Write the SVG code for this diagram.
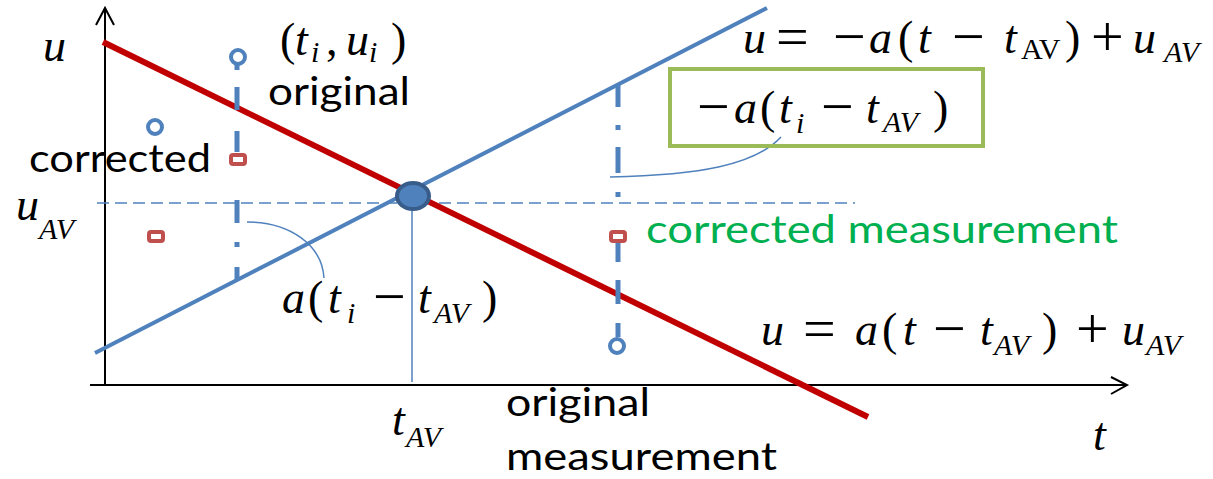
<svg xmlns="http://www.w3.org/2000/svg" width="1213" height="479" viewBox="0 0 1213 479">
<style>
.m{font-family:"Liberation Serif","DejaVu Serif",serif;font-style:italic;font-size:46px;fill:#000}
.p{font-style:normal}
.op{font-style:normal;font-size:58px}
.s{font-size:30px}
.r{font-style:normal}
.lbl{font-family:Lato,"Liberation Sans",sans-serif;font-size:38px;fill:#000}
.axis{stroke:#000;stroke-width:2;fill:none}
.dd{stroke:#4F81BD;stroke-width:5;fill:none}
.thin{stroke:#4F81BD;stroke-width:1.5;fill:none}
.sq{fill:#fff;stroke:#C0504D;stroke-width:4}
.ci{fill:#fff;stroke:#4F81BD;stroke-width:4}
</style>
<rect width="1213" height="479" fill="#fff"/>
<g id="connectors">
  <path class="axis" d="M105,385 V8 M96,25 L105,8 L114,25"/>
  <path class="axis" d="M90,385 H1127 M1111,377 L1127,385 L1111,394"/>
  <line x1="97" y1="203" x2="855" y2="203" stroke="#4F81BD" stroke-width="1.6" stroke-dasharray="12 6"/>
  <line x1="103" y1="42" x2="868" y2="417" stroke="#C00000" stroke-width="6"/>
  <line x1="95" y1="353" x2="767" y2="8" stroke="#4F81BD" stroke-width="4"/>
  <line x1="412" y1="200" x2="412" y2="382" class="thin"/>
  <path class="dd" d="M237,65V70 M237,87V110 M237,131V152 M237,200V223 M237,242V247 M237,267V280"/>
  <path class="dd" d="M618,85V107 M618,125V130 M618,147V173 M618,192V197 M618,238V262 M618,280V304 M618,323V337"/>
  <path class="thin" d="M247,222 C290,222 322,245 324,278"/>
  <path class="thin" d="M781,137 C755,165 700,175 610,177"/>
</g>
<g id="center-point"><ellipse cx="413" cy="196" rx="16" ry="13" fill="#4F81BD" stroke="#385D8A" stroke-width="4"/></g>
<g id="original-points">
  <circle class="ci" cx="238" cy="57" r="7"/>
  <circle class="ci" cx="155" cy="127" r="7"/>
  <circle class="ci" cx="617" cy="346" r="7"/>
</g>
<g id="corrected-points">
  <rect class="sq" x="231" y="155" width="14" height="9" rx="2"/>
  <rect class="sq" x="149" y="232" width="14" height="9" rx="2"/>
  <rect class="sq" x="611" y="232" width="14" height="9" rx="2"/>
</g>
<g id="box">
  <rect x="670" y="69" width="313" height="77" fill="none" stroke="#9BBB59" stroke-width="4"/>
  <text class="m"><tspan x="697" y="126" class="op">−</tspan><tspan x="734" y="123">a</tspan><tspan x="760" y="123" class="p">(</tspan><tspan x="779" y="123">t</tspan><tspan x="796" y="133" class="s">i</tspan><tspan x="821" y="126" class="op">−</tspan><tspan x="866" y="123">t</tspan><tspan x="883" y="132" class="s">AV</tspan><tspan x="933" y="123" class="p">)</tspan></text>
</g>
<g id="eq-top">
  <text class="m"><tspan x="743" y="53">u</tspan><tspan x="776" y="56" class="op">=</tspan><tspan x="833" y="56" class="op">−</tspan><tspan x="869" y="53">a</tspan><tspan x="898" y="53" class="p">(</tspan><tspan x="918" y="53">t</tspan><tspan x="952" y="56" class="op">−</tspan><tspan x="1004" y="53">t</tspan><tspan x="1021" y="59" class="s r">AV</tspan><tspan x="1065" y="53" class="p">)</tspan><tspan x="1091" y="56" class="op">+</tspan><tspan x="1133" y="53">u</tspan><tspan x="1164" y="62" class="s">AV</tspan></text>
</g>
<g id="eq-bottom">
  <text class="m"><tspan x="761" y="345">u</tspan><tspan x="803" y="348" class="op">=</tspan><tspan x="855" y="345">a</tspan><tspan x="882" y="345" class="p">(</tspan><tspan x="903" y="345">t</tspan><tspan x="933" y="348" class="op">−</tspan><tspan x="980" y="345">t</tspan><tspan x="994" y="355" class="s">AV</tspan><tspan x="1042" y="345" class="p">)</tspan><tspan x="1076" y="348" class="op">+</tspan><tspan x="1122" y="345">u</tspan><tspan x="1146" y="355" class="s">AV</tspan></text>
</g>
<g id="point-label">
  <text class="m"><tspan x="280" y="55" class="p">(</tspan><tspan x="295" y="55">t</tspan><tspan x="311" y="62" class="s">i</tspan><tspan x="326" y="55" class="p">,</tspan><tspan x="346" y="55">u</tspan><tspan x="369" y="62" class="s">i</tspan><tspan x="391" y="55" class="p">)</tspan></text>
</g>
<g id="diff-label">
  <text class="m"><tspan x="282" y="313">a</tspan><tspan x="308" y="313" class="p">(</tspan><tspan x="328" y="313">t</tspan><tspan x="347" y="323" class="s">i</tspan><tspan x="373" y="316" class="op">−</tspan><tspan x="418" y="313">t</tspan><tspan x="434" y="323" class="s">AV</tspan><tspan x="482" y="313" class="p">)</tspan></text>
</g>
<g id="axis-labels">
  <text class="m" x="43" y="61">u</text>
  <text class="m"><tspan x="16" y="220">u</tspan><tspan x="39" y="239" class="s">AV</tspan></text>
  <text class="m"><tspan x="392" y="435">t</tspan><tspan x="406" y="447" class="s">AV</tspan></text>
  <text class="m" x="1093" y="450">t</text>
</g>
<g id="text-labels">
  <text class="lbl" x="268" y="105" textLength="142" lengthAdjust="spacingAndGlyphs">original</text>
  <text class="lbl" x="29" y="172" textLength="182" lengthAdjust="spacingAndGlyphs">corrected</text>
  <text class="lbl" x="646" y="243" textLength="472" lengthAdjust="spacingAndGlyphs" style="fill:#00B050">corrected measurement</text>
  <text class="lbl" x="506" y="416" textLength="144" lengthAdjust="spacingAndGlyphs">original</text>
  <text class="lbl" x="506" y="470" textLength="271" lengthAdjust="spacingAndGlyphs">measurement</text>
</g>
</svg>
